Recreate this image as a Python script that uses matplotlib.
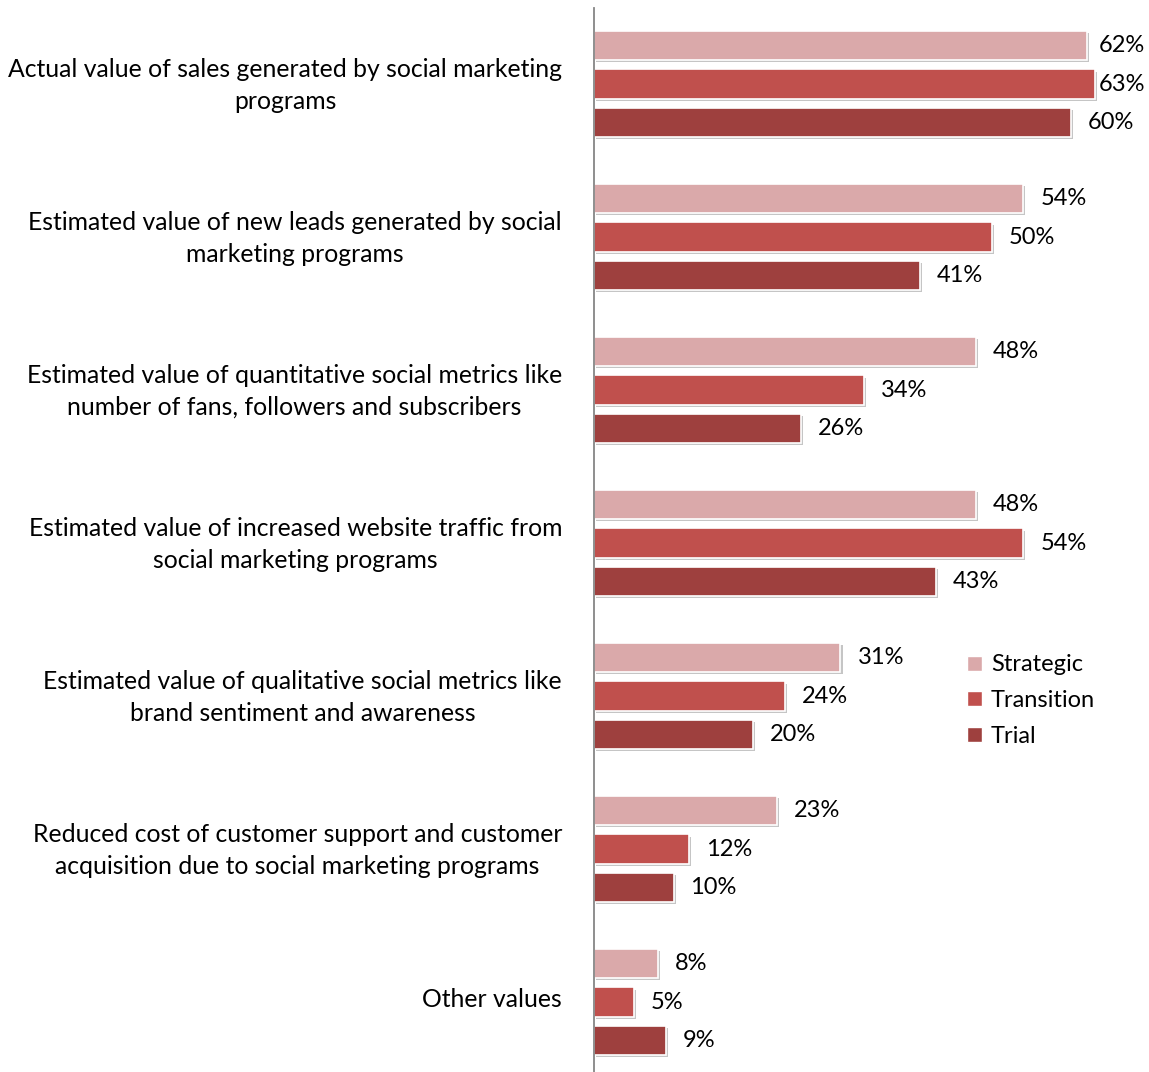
import numpy as np
import matplotlib.pyplot as plt
import matplotlib.patheffects as pe
import matplotlib.transforms as mtransforms
from matplotlib.patches import Patch

plt.rcParams['font.family'] = ['Lato', 'DejaVu Sans']

categories = [
    "Actual value of sales generated by social marketing\nprograms",
    "Estimated value of new leads generated by social\nmarketing programs",
    "Estimated value of quantitative social metrics like\nnumber of fans, followers and subscribers",
    "Estimated value of increased website traffic from\nsocial marketing programs",
    "Estimated value of qualitative social metrics like\nbrand sentiment and awareness",
    "Reduced cost of customer support and customer\nacquisition due to social marketing programs",
    "Other values",
]
strategic = [62, 54, 48, 48, 31, 23, 8]
transition = [63, 50, 34, 54, 24, 12, 5]
trial = [60, 41, 26, 43, 20, 10, 9]

series = [("Strategic", strategic, "#DAA9AA"),
          ("Transition", transition, "#C0504D"),
          ("Trial", trial, "#9E403E")]

W, H = 1149, 1072
x0 = 594          # axis position in pixels
ppu = 7.95        # pixels per percent
fig = plt.figure(figsize=(W / 100, H / 100), dpi=100)
ax = fig.add_axes([x0 / W, -6.5 / H, (W - x0) / W, 1071 / H])

y = np.arange(len(categories))
pitch = 0.252
height = 0.19
shadow = [pe.SimplePatchShadow(offset=(1.5, -1.5), shadow_rgbFace='#808080', alpha=0.45), pe.Normal()]

for k, (name, vals, col) in enumerate(series):
    pos = y + (k - 1) * pitch
    bars = ax.barh(pos, vals, height=height, color=col, edgecolor='white',
                   linewidth=1.2, label=name)
    for b in bars:
        b.set_path_effects(shadow)
    for p, v in zip(pos, vals):
        # labels sit past the bar end, pulled back when they would run off the edge
        lx = min(v + 17 / ppu, (1099 - x0) / ppu)
        ax.text(lx, p, f"{v}%", va='center', ha='left', fontsize=17, color='black')

ax.set_ylim(len(categories) - 0.5, -0.5)
ax.set_xlim(0, (W - x0) / ppu)
ax.set_xticks([])
ax.set_yticks(y)
ax.set_yticklabels(categories, fontsize=17.8, multialignment='center', linespacing=1.45)
ax.tick_params(axis='y', length=0, pad=23)
lift = mtransforms.ScaledTranslation(0, 5 / 100, fig.dpi_scale_trans)
for lbl in ax.get_yticklabels():
    lbl.set_transform(lbl.get_transform() + lift)
for s in ['top', 'right', 'bottom']:
    ax.spines[s].set_visible(False)
ax.spines['left'].set_color('#868686')
ax.spines['left'].set_linewidth(1.3)

handles = [Patch(facecolor=c, edgecolor='white', label=n) for n, _, c in series]
fig.legend(handles=handles, loc='upper left', bbox_to_anchor=(958 / W, 1 - 645 / H),
           frameon=False, fontsize=17, handlelength=0.6, handleheight=0.6,
           handletextpad=0.4, labelspacing=0.62, borderaxespad=0)

fig.savefig("out.png", dpi=100)
